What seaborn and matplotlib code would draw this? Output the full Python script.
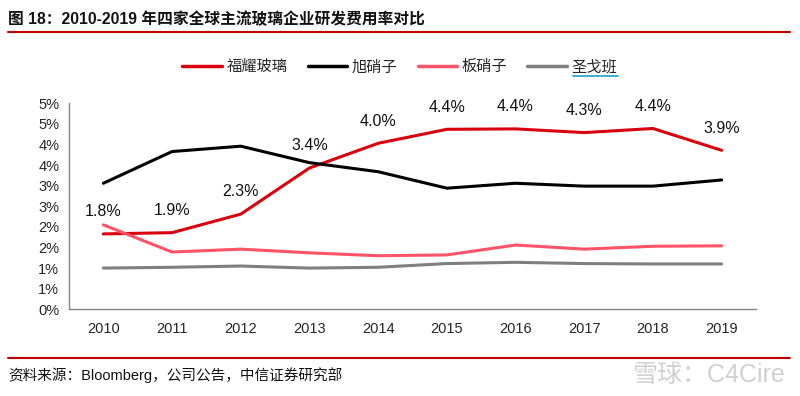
import matplotlib
matplotlib.use("Agg")
import matplotlib.pyplot as plt
import pandas as pd
import seaborn as sns
from matplotlib.lines import Line2D

# data (R&D expense ratio, %)
years = ["2010", "2011", "2012", "2013", "2014", "2015", "2016", "2017", "2018", "2019"]
fuyao = [1.83, 1.86, 2.31, 3.43, 4.03, 4.37, 4.38, 4.29, 4.39, 3.86]
agc = [3.06, 3.83, 3.96, 3.56, 3.34, 2.94, 3.06, 2.99, 2.99, 3.14]
nsg = [2.05, 1.39, 1.46, 1.37, 1.30, 1.32, 1.56, 1.46, 1.53, 1.54]
saint_gobain = [1.00, 1.02, 1.05, 1.00, 1.02, 1.11, 1.14, 1.11, 1.10, 1.10]
companies = ["福耀玻璃", "旭硝子", "板硝子", "圣戈班"]
colors = ["#D9000D", "#000000", "#FF5468", "#7F7F7F"]
yticks = [0, 0.5, 1, 1.5, 2, 2.5, 3, 3.5, 4, 4.5, 5]
ytick_labels = ["0%", "1%", "1%", "2%", "2%", "3%", "3%", "4%", "4%", "5%", "5%"]

title = "图 18：2010-2019 年四家全球主流玻璃企业研发费用率对比"
source = "资料来源：Bloomberg，公司公告，中信证券研究部"

df = pd.DataFrame({
    "year": years * 4,
    "rate": fuyao + agc + nsg + saint_gobain,
    "company": sum([[c] * len(years) for c in companies], []),
})

sns.set_theme(style="white")
fonts = ["Liberation Sans", "Noto Sans CJK SC", "DejaVu Sans"]
plt.rcParams["font.family"] = fonts

fig = plt.figure(figsize=(8, 3.96), dpi=100)
ax = fig.add_axes([0.08625, 0.219, 0.945 - 0.08625, 0.739 - 0.219])

sns.lineplot(data=df, x="year", y="rate", hue="company", hue_order=companies,
             palette=colors, linewidth=2.2, ax=ax, legend=False)

# data labels for Fuyao
for i, v in enumerate(fuyao):
    ax.annotate(f"{v:.1f}%", (i, v), xytext=(0, 16), textcoords="offset points",
                ha="center", va="center", fontsize=11.5, color="#111111")

ax.set_xlim(-0.5, len(years) - 0.5)
ax.set_ylim(0, 5)
ax.set_yticks(yticks)
ax.set_yticklabels(ytick_labels)
ax.set_xticks(range(len(years)))
ax.set_xticklabels(years)
ax.set_xticks([i - 0.5 for i in range(len(years) + 1)], minor=True)
ax.tick_params(axis="x", which="major", length=0, pad=9, labelsize=10.5)
ax.tick_params(axis="x", which="minor", length=5, color="#888888", width=1, direction="out")
ax.tick_params(axis="y", length=4, color="#888888", width=1, direction="out",
               labelsize=10.5, pad=3)
ax.set_xlabel("")
ax.set_ylabel("")
for s in ["top", "right"]:
    ax.spines[s].set_visible(False)
for s in ["left", "bottom"]:
    ax.spines[s].set_color("#888888")
    ax.spines[s].set_linewidth(1)

# legend
handles = [Line2D([], [], color=c, lw=2.5) for c in colors]
fig.legend(handles, companies, loc="center", bbox_to_anchor=(0.5, 0.831), ncol=4,
           frameon=False, fontsize=11, handlelength=2.6, handletextpad=0.3,
           columnspacing=1.3)
# link underline under the last legend label, as in the source
fig.add_artist(Line2D([0.716, 0.772], [0.808, 0.808], transform=fig.transFigure,
                      color="#17A2C6", lw=1.2))

# header / footer
fig.text(0.01, 0.952, title, fontsize=11.3, fontweight="bold", ha="left", va="center",
         color="#111111")
fig.add_artist(Line2D([0.01, 0.9875], [0.918, 0.918], transform=fig.transFigure,
                      color="#C00000", lw=1.5))
fig.add_artist(Line2D([0.01, 0.9875], [0.097, 0.097], transform=fig.transFigure,
                      color="#C00000", lw=1.5))
fig.text(0.01, 0.053, source, fontsize=10.5, ha="left", va="center", color="#111111")
fig.text(0.79, 0.053, "雪球：C4Cire", fontsize=18, ha="left", va="center",
         color="#D0D0D0")

fig.savefig("out.png", dpi=100)
